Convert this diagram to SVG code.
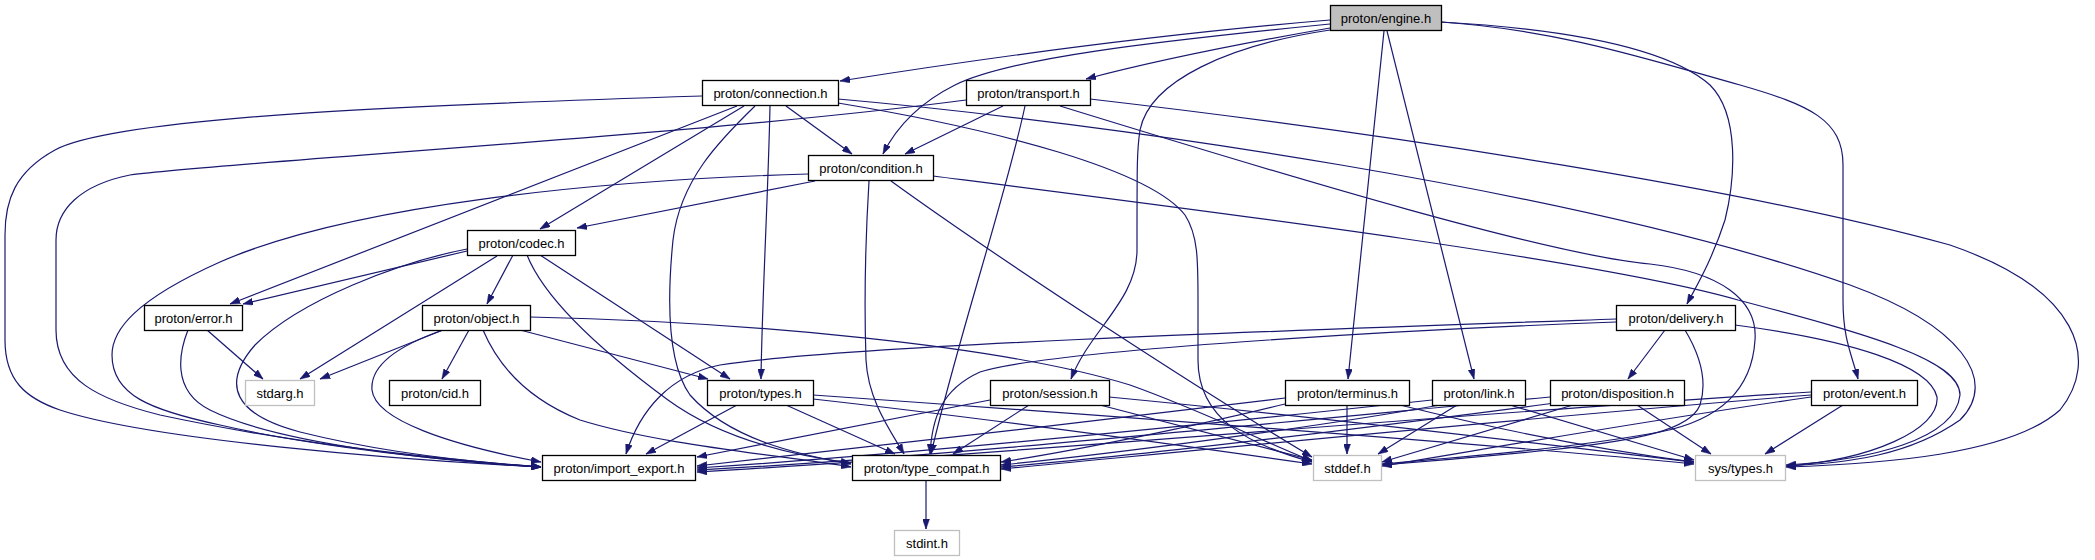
<svg xmlns="http://www.w3.org/2000/svg" width="2095" height="560" viewBox="0 0 2095 560">
<style>
.n rect{fill:#fff;stroke:#000;stroke-width:1.3}
.s rect{fill:#fff;stroke:#bfbfbf;stroke-width:1.3}
.r rect{fill:#bfbfbf;stroke:#000;stroke-width:1.3}
text{font-family:"Liberation Sans",Arial,sans-serif;font-size:13px;fill:#000;text-anchor:middle}
#edges path{fill:none;stroke:#191970;stroke-width:1.2;marker-end:url(#a)}
</style>
<defs>
<marker id="a" viewBox="0 0 10 7" refX="10" refY="3.5" markerWidth="10" markerHeight="7" markerUnits="userSpaceOnUse" orient="auto">
<path d="M0,0 L10,3.5 L0,7 z" fill="#191970" stroke="#191970" stroke-width="0.5"/>
</marker>
</defs>
<rect width="2095" height="560" fill="#fff"/>
<g id="edges">
<path d="M1330,20 C1150,35 960,62 840,81"/>
<path d="M1330,24 C1150,42 1010,58 955,85 C915,105 895,130 883,154"/>
<path d="M1330,28 C1250,42 1150,62 1086,79"/>
<path d="M1330,30 C1230,45 1150,80 1140,130 C1137,150 1137,160 1137,250 C1137,300 1090,330 1071,379"/>
<path d="M1384,31 L1348,379"/>
<path d="M1387,31 L1474,379"/>
<path d="M1441,22 C1580,30 1670,50 1710,85 C1740,115 1735,180 1725,220 C1712,260 1697,285 1687,304"/>
<path d="M1441,22 C1560,30 1650,60 1740,85 C1810,105 1843,120 1843,165 L1843,300 C1843,340 1852,355 1858,379"/>
<path d="M702,96 C450,104 120,115 55,150 C15,172 5,200 5,235 L5,340 C5,380 25,398 60,410 C150,440 400,460 541,467"/>
<path d="M786,106 L852,154"/>
<path d="M744,106 L540,229"/>
<path d="M737,106 L230,304"/>
<path d="M770,106 C768,200 762,300 761,379"/>
<path d="M755,106 C720,140 680,180 673,240 C668,290 665,360 690,395 C730,440 800,455 851,464"/>
<path d="M838,103 C1000,130 1150,170 1185,215 C1198,235 1198,260 1198,300 L1198,360 C1198,420 1250,445 1312,462"/>
<path d="M838,99 C1100,122 1580,190 1850,285 C1960,325 2000,380 1960,420 C1910,455 1850,463 1786,466"/>
<path d="M1003,106 L905,154"/>
<path d="M966,100 C700,135 250,160 130,175 C80,185 56,210 56,240 L56,330 C56,380 100,400 160,415 C300,445 450,460 541,467"/>
<path d="M1025,106 C1005,200 960,330 931,454"/>
<path d="M1060,106 C1300,180 1550,255 1650,264 C1720,272 1758,300 1755,340 C1752,390 1720,420 1660,432 C1560,450 1450,458 1382,464"/>
<path d="M1090,99 C1400,135 1750,190 1950,245 C2080,290 2100,360 2060,410 C2010,455 1880,464 1786,467"/>
<path d="M815,181 L577,228"/>
<path d="M808,174 C600,180 350,205 220,262 C135,300 112,330 112,355 C112,395 150,410 220,425 C320,448 450,461 541,467"/>
<path d="M869,181 C866,230 864,300 866,360 C868,400 890,430 904,454"/>
<path d="M891,181 C1000,260 1200,390 1312,457"/>
<path d="M933,176 C1200,210 1600,260 1738,300 C1870,335 1960,360 1960,395 C1955,440 1870,460 1786,465"/>
<path d="M467,251 L243,304"/>
<path d="M513,255 L487,304"/>
<path d="M540,255 L730,379"/>
<path d="M497,256 L300,379"/>
<path d="M467,249 C400,262 300,300 255,345 C220,385 235,415 300,432 C380,452 470,462 541,467"/>
<path d="M527,255 C545,300 600,350 668,400 C720,438 790,455 851,463"/>
<path d="M207,330 L263,379"/>
<path d="M188,330 C180,350 170,390 210,410 C280,445 450,462 541,467"/>
<path d="M443,330 L320,379"/>
<path d="M469,330 L442,379"/>
<path d="M520,330 L708,379"/>
<path d="M443,330 C400,345 370,365 372,390 C375,420 450,445 541,462"/>
<path d="M483,330 C500,370 530,400 580,420 C660,445 780,455 851,467"/>
<path d="M530,317 C750,322 1000,345 1130,385 C1200,410 1260,440 1312,461"/>
<path d="M737,405 L646,454"/>
<path d="M786,405 L895,454"/>
<path d="M813,399 C1000,420 1200,448 1312,464"/>
<path d="M813,395 C1100,415 1500,445 1694,464"/>
<path d="M990,400 L697,457"/>
<path d="M1029,405 L953,454"/>
<path d="M1100,405 L1312,460"/>
<path d="M1109,397 C1350,420 1550,445 1694,462"/>
<path d="M1347,405 L1347,454"/>
<path d="M1285,398 C1100,420 850,450 697,466"/>
<path d="M1285,404 C1200,425 1080,450 1001,462"/>
<path d="M1400,405 C1500,430 1600,450 1694,462"/>
<path d="M1457,405 L1378,454"/>
<path d="M1432,400 C1200,425 900,455 697,468"/>
<path d="M1440,405 C1300,430 1100,455 1001,465"/>
<path d="M1510,405 L1694,460"/>
<path d="M1573,405 L1382,462"/>
<path d="M1637,405 L1711,454"/>
<path d="M1550,397 C1200,430 900,460 697,470"/>
<path d="M1555,403 C1350,430 1150,455 1001,467"/>
<path d="M1665,330 L1628,379"/>
<path d="M1616,319 C1300,330 850,345 720,365 C670,375 640,410 626,454"/>
<path d="M1616,322 C1400,330 1050,350 980,372 C940,390 932,420 930,454"/>
<path d="M1685,330 C1700,355 1708,380 1700,405 C1690,430 1640,440 1550,450 C1470,458 1420,462 1382,465"/>
<path d="M1735,325 C1850,340 1930,365 1937,397 C1940,430 1870,460 1786,466"/>
<path d="M1843,405 L1765,454"/>
<path d="M1811,397 C1650,420 1480,450 1382,466"/>
<path d="M1811,392 C1500,410 1000,455 697,472"/>
<path d="M1811,395 C1500,420 1150,455 1001,469"/>
<path d="M926,480 L926,529"/>
</g>
<g id="engine" class="r"><rect x="1330.5" y="5.5" width="111" height="25"/><text x="1386" y="22.5">proton/engine.h</text></g>
<g id="connection" class="n"><rect x="702.5" y="80.5" width="136" height="25"/><text x="770.5" y="97.5">proton/connection.h</text></g>
<g id="transport" class="n"><rect x="966.5" y="80.5" width="124" height="25"/><text x="1028.5" y="97.5">proton/transport.h</text></g>
<g id="condition" class="n"><rect x="808.5" y="155.5" width="125" height="25"/><text x="871" y="172.5">proton/condition.h</text></g>
<g id="codec" class="n"><rect x="467.5" y="230.5" width="108" height="25"/><text x="521.5" y="247.5">proton/codec.h</text></g>
<g id="error" class="n"><rect x="144.5" y="305.5" width="98" height="25"/><text x="193.5" y="322.5">proton/error.h</text></g>
<g id="object" class="n"><rect x="422.5" y="305.5" width="108" height="25"/><text x="476.5" y="322.5">proton/object.h</text></g>
<g id="delivery" class="n"><rect x="1616.5" y="305.5" width="119" height="25"/><text x="1676" y="322.5">proton/delivery.h</text></g>
<g id="stdarg" class="s"><rect x="245.5" y="380.5" width="69" height="25"/><text x="280" y="397.5">stdarg.h</text></g>
<g id="cid" class="n"><rect x="389.5" y="380.5" width="91" height="25"/><text x="435" y="397.5">proton/cid.h</text></g>
<g id="types" class="n"><rect x="707.5" y="380.5" width="106" height="25"/><text x="760.5" y="397.5">proton/types.h</text></g>
<g id="session" class="n"><rect x="990.5" y="380.5" width="119" height="25"/><text x="1050" y="397.5">proton/session.h</text></g>
<g id="terminus" class="n"><rect x="1285.5" y="380.5" width="124" height="25"/><text x="1347.5" y="397.5">proton/terminus.h</text></g>
<g id="link" class="n"><rect x="1432.5" y="380.5" width="93" height="25"/><text x="1479" y="397.5">proton/link.h</text></g>
<g id="disposition" class="n"><rect x="1550.5" y="380.5" width="134" height="25"/><text x="1617.5" y="397.5">proton/disposition.h</text></g>
<g id="event" class="n"><rect x="1811.5" y="380.5" width="106" height="25"/><text x="1864.5" y="397.5">proton/event.h</text></g>
<g id="import_export" class="n"><rect x="542.5" y="455.5" width="153" height="25"/><text x="619" y="472.5">proton/import_export.h</text></g>
<g id="type_compat" class="n"><rect x="852.5" y="455.5" width="148" height="25"/><text x="926.5" y="472.5">proton/type_compat.h</text></g>
<g id="stddef" class="s"><rect x="1313.5" y="455.5" width="68" height="25"/><text x="1347.5" y="472.5">stddef.h</text></g>
<g id="systypes" class="s"><rect x="1695.5" y="455.5" width="90" height="25"/><text x="1740.5" y="472.5">sys/types.h</text></g>
<g id="stdint" class="s"><rect x="894.5" y="530.5" width="65" height="25"/><text x="927" y="547.5">stdint.h</text></g>
</svg>
